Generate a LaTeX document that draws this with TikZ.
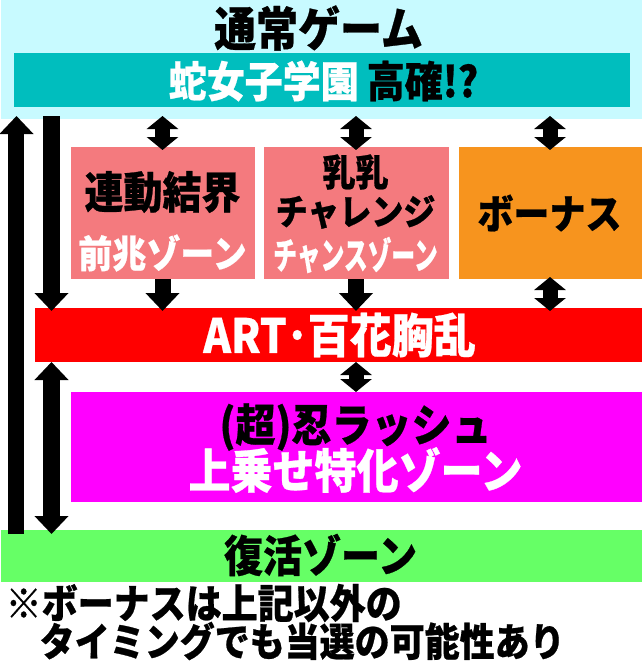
\documentclass[tikz,border=0pt]{standalone}
\usepackage{fontspec}
\setmainfont{Noto Sans CJK JP}[BoldFeatures={FakeBold=0.6}]
\usepackage{graphicx}
\usetikzlibrary{arrows.meta,positioning}

\definecolor{skybg}{RGB}{200,250,255}
\definecolor{tealbar}{RGB}{0,190,190}
\definecolor{pinkbox}{RGB}{244,122,126}
\definecolor{orangebox}{RGB}{247,148,30}
\definecolor{redbar}{RGB}{255,0,0}
\definecolor{magbox}{RGB}{255,0,255}
\definecolor{greenbar}{RGB}{102,255,102}

\newcommand\jtxt[2]{\scalebox{1}[1.12]{\fontsize{#1pt}{#1pt}\selectfont #2}}

\tikzset{
  bar/.style={inner sep=0pt, outer sep=0pt, anchor=north west},
  lbl/.style={font=\bfseries, inner sep=0pt},
  bigarrow/.style={line width=16pt, -{Triangle[width=33pt,length=18pt]}},
  bigdbl/.style={line width=16pt, {Triangle[width=33pt,length=18pt]}-{Triangle[width=33pt,length=18pt]}},
  dblarrow/.style={line width=15pt, {Triangle[width=31pt,length=13pt]}-{Triangle[width=31pt,length=13pt]}},
}

\begin{document}
\begin{tikzpicture}[x=1pt,y=-1pt]
  \fill[white] (0,0) rectangle (640,662);
  \fill[skybg] (0,0) rectangle (640,119);

  % title and top bar
  \node[lbl] (tsujo) at (317,28) {\jtxt{42}{通常ゲーム}};
  \node[bar, fill=tealbar, minimum width=615pt, minimum height=54pt] (hebi) at (13,53) {};
  \node[lbl] (hebitxt) at (322,81) {\jtxt{38}{{\color{white}蛇女子学園}\hspace{8pt}高確!?}};

  % zones
  \node[bar, fill=pinkbox, minimum width=184pt, minimum height=132pt] (renbo) at (69,147) {};
  \node[bar, fill=pinkbox, minimum width=185pt, minimum height=132pt] (nyunyu) at (262,147) {};
  \node[bar, fill=orangebox, minimum width=183pt, minimum height=132pt] (bonus) at (457,147) {};
  \node[bar, fill=redbar, minimum width=606pt, minimum height=54pt] (art) at (34,308) {};
  \node[bar, fill=magbox, minimum width=571pt, minimum height=110pt] (shinobi) at (69,392) {};
  \node[bar, fill=greenbar, minimum width=640pt, minimum height=52pt] (fukkatsu) at (0,530) {};

  \node[lbl] (renboA) at (161,192) {\jtxt{39}{連動結界}};
  \node[lbl, text=white] (renboB) at (161,253) {\jtxt{34}{前兆ゾーン}};
  \node[lbl] (nyunyuA) at (354,172) {\jtxt{33}{乳乳}};
  \node[lbl] (nyunyuB) at (354,212) {\jtxt{32}{チャレンジ}};
  \node[lbl, text=white] (nyunyuC) at (354,255) {\jtxt{33}{\scalebox{0.72}[1]{チャンスゾーン}}};
  \node[lbl] (bonustxt) at (548,213) {\jtxt{36}{ボーナス}};
  \node[lbl, text=white] (arttxt) at (338,335) {\jtxt{42}{ART･百花胸乱}};
  \node[lbl] (shinobiA) at (354,427) {\jtxt{40}{(超)忍ラッシュ}};
  \node[lbl, text=white] (shinobiB) at (354,470) {\jtxt{42}{上乗せ特化ゾーン}};
  \node[lbl] (fukkatsutxt) at (319,555) {\jtxt{39}{復活ゾーン}};

  % note
  \node[lbl, anchor=west] (noteA) at (4,603) {\jtxt{36}{※ボーナスは上記以外の}};
  \node[lbl, anchor=west] (noteB) at (38,641) {\jtxt{35}{タイミングでも当選の可能性あり}};

  % arrows
  \coordinate (lane1) at (15,0);
  \coordinate (lane2) at (50,0);
  \draw[bigarrow] ([yshift=-4pt]fukkatsu.north -| lane1) -- ([yshift=-9pt]hebi.south -| lane1);
  \draw[bigarrow] ([yshift=-9pt]hebi.south -| lane2) -- ([yshift=-3pt]art.north -| lane2);
  \draw[bigdbl] (art.south -| lane2) -- ([yshift=-4pt]fukkatsu.north -| lane2);
  \foreach \z in {renbo,nyunyu,bonus}
    \draw[dblarrow] ([yshift=-9pt]hebi.south -| \z.north) -- ([yshift=-3pt]\z.north);
  \draw[bigarrow] (renbo.south) -- ([yshift=-3pt]art.north -| renbo.south);
  \draw[bigarrow] (nyunyu.south) -- ([yshift=-3pt]art.north -| nyunyu.south);
  \draw[dblarrow] ([yshift=2pt]bonus.south) -- ([yshift=-3pt]art.north -| bonus.south);
  \draw[dblarrow] (art.south -| nyunyu.south) -- (shinobi.north -| nyunyu.south);
\end{tikzpicture}
\end{document}
